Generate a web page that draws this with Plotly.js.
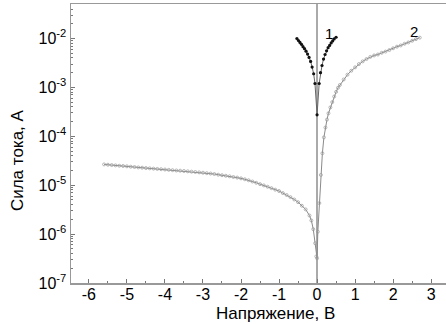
<!DOCTYPE html>
<html><head><meta charset="utf-8">
<script src="https://cdn.plot.ly/plotly-3.0.1.min.js"></script>
<style>html,body{margin:0;padding:0;background:#fff}#c{width:446px;height:324px}</style>
</head><body><div id="c"></div>
<script>
// Curve 1
var x1 = [-0.53,-0.49,-0.45,-0.41,-0.37,-0.33,-0.29,-0.25,-0.21,-0.17,-0.13,-0.09,-0.055,0,
          0.055,0.09,0.13,0.17,0.21,0.25,0.29,0.33,0.37,0.41,0.45,0.5];
var y1 = [1.0e-2,9.1e-3,8.3e-3,7.6e-3,6.8e-3,6.2e-3,5.5e-3,4.8e-3,4.1e-3,3.4e-3,2.6e-3,1.9e-3,1.2e-3,2.75e-4,
          1.2e-3,2.0e-3,2.8e-3,3.8e-3,4.7e-3,5.6e-3,6.5e-3,7.2e-3,8.1e-3,8.9e-3,9.8e-3,1.06e-2];
// Curve 2
var x2 = [-5.6,-5.5,-5.4,-5.3,-5.2,-5.1,-5.0,-4.9,-4.8,-4.7,-4.6,-4.5,-4.4,-4.3,-4.2,-4.1,-4.0,
          -3.9,-3.8,-3.7,-3.6,-3.5,-3.4,-3.3,-3.2,-3.1,-3.0,-2.9,-2.8,-2.7,-2.6,-2.5,-2.4,-2.3,-2.2,-2.1,-2.0,
          -1.9,-1.8,-1.7,-1.6,-1.5,-1.4,-1.3,-1.2,-1.1,-1.0,-0.9,-0.8,-0.7,-0.6,-0.5,-0.4,-0.3,-0.2,-0.15,-0.1,-0.05,-0.02,0,
          0.02,0.06,0.10,0.14,0.18,0.22,0.26,0.30,0.35,0.40,0.45,0.50,0.55,0.60,0.70,0.80,0.90,1.00,
          1.10,1.20,1.30,1.40,1.50,1.60,1.70,1.80,1.90,2.00,2.10,2.20,2.30,2.40,2.50,2.60,2.70];
var y2 = [2.66e-5,2.62e-5,2.58e-5,2.54e-5,2.50e-5,2.47e-5,2.43e-5,2.39e-5,2.35e-5,2.31e-5,2.28e-5,2.24e-5,2.21e-5,2.18e-5,2.15e-5,2.12e-5,2.09e-5,
          2.06e-5,2.03e-5,2.00e-5,1.98e-5,1.95e-5,1.92e-5,1.89e-5,1.86e-5,1.83e-5,1.80e-5,1.76e-5,1.73e-5,1.69e-5,1.64e-5,1.60e-5,1.56e-5,1.52e-5,1.47e-5,1.43e-5,1.38e-5,
          1.32e-5,1.26e-5,1.19e-5,1.12e-5,1.05e-5,9.9e-6,9.3e-6,8.7e-6,8.1e-6,7.6e-6,6.9e-6,6.3e-6,5.7e-6,5.1e-6,4.5e-6,3.8e-6,3.2e-6,2.4e-6,1.9e-6,1.26e-6,6.5e-7,3.5e-7,3.2e-7,
          1.12e-6,4.3e-6,1.62e-5,4.5e-5,9.5e-5,1.51e-4,2.19e-4,2.95e-4,3.9e-4,5.0e-4,6.5e-4,8.1e-4,9.8e-4,1.12e-3,1.45e-3,1.82e-3,2.19e-3,2.57e-3,
          3.0e-3,3.4e-3,3.8e-3,4.2e-3,4.5e-3,4.7e-3,5.1e-3,5.4e-3,5.8e-3,6.3e-3,6.8e-3,7.2e-3,7.8e-3,8.3e-3,9.0e-3,9.7e-3,1.04e-2];
var yTickVals = [1e-7,1e-6,1e-5,1e-4,1e-3,1e-2];
var yTickText = ['10<sup>-7</sup>','10<sup>-6</sup>','10<sup>-5</sup>','10<sup>-4</sup>','10<sup>-3</sup>','10<sup>-2</sup>'];
var xTickVals = [-6,-5,-4,-3,-2,-1,0,1,2,3];
var xTickText = ['-6','-5','-4','-3','-2','-1','0','1','2','3'];

var traces = [
  {x:x2, y:y2, type:'scatter', mode:'lines+markers',
   line:{color:'#8a8a8a', width:1},
   marker:{symbol:'circle-open', size:3, color:'#999', line:{width:0.7}}},
  {x:x1, y:y1, type:'scatter', mode:'lines+markers',
   line:{color:'#666', width:1},
   marker:{symbol:'circle', size:3.2, color:'#111'}}
];
var F = 'Liberation Sans, Arial, sans-serif';
var layout = {
  width:446, height:324,
  margin:{l:71, r:0, t:4, b:41},
  paper_bgcolor:'#fff', plot_bgcolor:'#fff',
  showlegend:false,
  font:{family:F, color:'#000', size:16},
  xaxis:{range:[-6.47,3.39], tickvals:xTickVals, ticktext:xTickText,
         ticks:'inside', ticklen:4, tickcolor:'#777', tickwidth:1,
         minor:{dtick:0.5, ticks:'inside', ticklen:2, tickcolor:'#777'},
         showline:true, linecolor:'#999', linewidth:1.5, mirror:true,
         showgrid:false, zeroline:true, zerolinecolor:'#aaa', zerolinewidth:1.5,
         ticklabelstandoff:-4,
         tickfont:{family:F, size:16, color:'#000'}},
  yaxis:{type:'log', range:[-7,-1.295], tickvals:yTickVals, ticktext:yTickText,
         ticks:'inside', ticklen:4, tickcolor:'#777', tickwidth:1,
         minor:{dtick:'D1', ticks:'inside', ticklen:2, tickcolor:'#777'},
         showline:true, linecolor:'#999', linewidth:1.5,
         showgrid:false, zeroline:false,
         tickfont:{family:F, size:16, color:'#000'}},
  annotations:[
    {text:'1', x:0.32, y:-1.894, xref:'x', yref:'y', showarrow:false, font:{family:F,size:15,color:'#000'}},
    {text:'2', x:2.56, y:-1.847, xref:'x', yref:'y', showarrow:false, font:{family:F,size:15,color:'#000'}},
    {text:'Сила тока, А', xref:'paper', yref:'paper', x:-0.141, y:0.441, textangle:-90,
     showarrow:false, xanchor:'center', yanchor:'middle', font:{family:F,size:17,color:'#000'}},
    {text:'Напряжение, В', xref:'paper', yref:'paper', x:0.544, y:-0.108,
     showarrow:false, xanchor:'center', yanchor:'middle', font:{family:F,size:17,color:'#000'}}
  ]
};
Plotly.newPlot('c', traces, layout, {displayModeBar:false, staticPlot:true});
</script></body></html>
